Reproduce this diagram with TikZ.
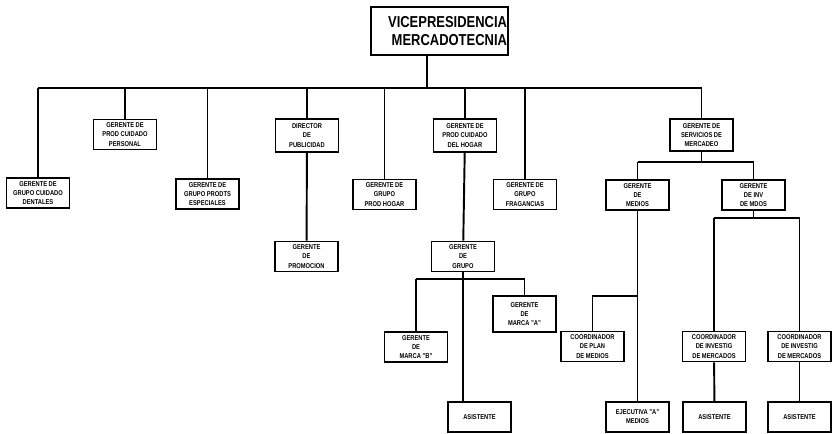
\documentclass[tikz,border=0pt]{standalone}
\usepackage{fontspec}
\setmainfont[FakeStretch=0.82]{Liberation Sans}
\tikzset{
  puesto/.style={draw,line width=1pt,minimum width=1.26cm,minimum height=0.6cm,inner sep=0.5pt,align=center,font=\fontsize{4}{5.2}\selectfont\bfseries},
  liga/.style={line width=1.1pt}
}
\begin{document}
\begin{tikzpicture}[x=0.02cm,y=-0.02cm]
\useasboundingbox (0,0) rectangle (832,433);
\node[puesto,minimum height=0.96cm,text width=2.7cm,align=right,font=\fontsize{9}{10}\selectfont\bfseries] at (439.5,31) (vp) {VICEPRESIDENCIA\\MERCADOTECNIA};

\node[puesto] at (38,193) (dent) {GERENTE DE\\GRUPO CUIDADO\\DENTALES};
\node[puesto] at (125,134.5) (pers) {GERENTE DE\\PROD CUIDADO\\PERSONAL};
\node[puesto] at (207.5,194) (espe) {GERENTE DE\\GRUPO PRODTS\\ESPECIALES};
\node[puesto,minimum height=0.66cm] at (307,135.5) (dirp) {DIRECTOR\\DE\\PUBLICIDAD};
\node[puesto] at (384.5,194.5) (hogr) {GERENTE DE\\GRUPO\\PROD HOGAR};
\node[puesto,minimum height=0.66cm] at (465,135.5) (cuid) {GERENTE DE\\PROD CUIDADO\\DEL HOGAR};
\node[puesto] at (525,194.5) (frag) {GERENTE DE\\GRUPO\\FRAGANCIAS};
\node[puesto,minimum height=0.64cm] at (701.5,135) (serv) {GERENTE DE\\SERVICIOS DE\\MERCADEO};

\node[puesto] at (306.5,256.5) (prom) {GERENTE\\DE\\PROMOCION};
\node[puesto] at (463,256.5) (grp) {GERENTE\\DE\\GRUPO};
\node[puesto] at (416,347) (marb) {GERENTE\\DE\\MARCA "B"};
\node[puesto,minimum height=0.72cm] at (524.5,314) (mara) {GERENTE\\DE\\MARCA "A"};
\node[puesto] at (479.5,417) (asis1) {ASISTENTE};

\node[puesto] at (637.5,195) (medi) {GERENTE\\DE\\MEDIOS};
\node[puesto] at (753.5,195) (vinv) {GERENTE\\DE INV\\DE MDOS};
\node[puesto] at (592.5,346.5) (cplan) {COORDINADOR\\DE PLAN\\DE MEDIOS};
\node[puesto] at (637.5,417) (ejec) {EJECUTIVA "A"\\MEDIOS};
\node[puesto] at (714,346.5) (cinv1) {COORDINADOR\\DE INVESTIG\\DE MERCADOS};
\node[puesto] at (799.5,346.5) (cinv2) {COORDINADOR\\DE INVESTIG\\DE MERCADOS};
\node[puesto] at (714.5,417) (asis2) {ASISTENTE};
\node[puesto] at (799.5,417) (asis3) {ASISTENTE};

\coordinate (vpbase) at (427,88);
\coordinate (bus) at (0,88);
\coordinate (servbus) at (0,162);
\coordinate (invbus) at (0,218);
\coordinate (grpbus) at (0,279);
\coordinate (medbr) at (0,296);

\draw[liga] (vpbase) -- (vpbase |- vp.south);
\draw[liga] (dent.north |- bus) -- (serv.north |- bus);
\foreach \n in {dent,pers,espe,dirp,hogr,cuid,frag,serv}
  \draw[liga] (\n.north) -- (\n.north |- bus);

\draw[liga] (dirp) -- (prom);
\draw[liga] (cuid) -- (grp);
\draw[liga] (grp.south) -- (grp.south |- asis1.north);
\draw[liga] (marb.north |- grpbus) -- (mara.north |- grpbus);
\draw[liga] (marb.north) -- (marb.north |- grpbus);
\draw[liga] (mara.north) -- (mara.north |- grpbus);

\draw[liga] (serv.south) -- (serv.south |- servbus);
\draw[liga] (medi.north |- servbus) -- (vinv.north |- servbus);
\draw[liga] (medi.north) -- (medi.north |- servbus);
\draw[liga] (vinv.north) -- (vinv.north |- servbus);
\draw[liga] (medi) -- (ejec);
\draw[liga] (medi.south |- medbr) -| (cplan.north);

\draw[liga] (vinv.south) -- (vinv.south |- invbus);
\draw[liga] (cinv1.north |- invbus) -- (cinv2.north |- invbus);
\draw[liga] (cinv1.north) -- (cinv1.north |- invbus);
\draw[liga] (cinv2.north) -- (cinv2.north |- invbus);
\draw[liga] (cinv1) -- (asis2);
\draw[liga] (cinv2) -- (asis3);
\end{tikzpicture}
\end{document}
